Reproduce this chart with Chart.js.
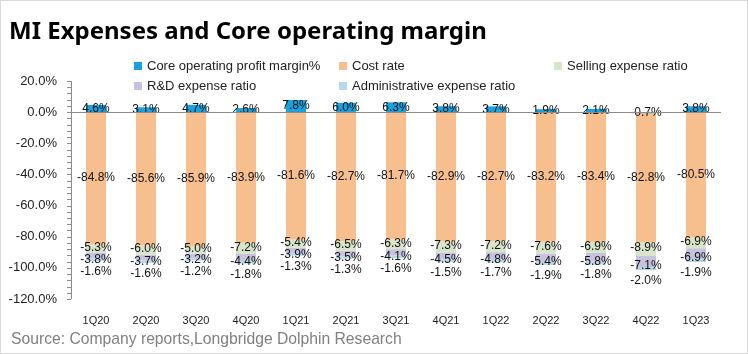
<!DOCTYPE html>
<html>
<head>
<meta charset="utf-8">
<script src="https://cdn.jsdelivr.net/npm/chart.js@4/dist/chart.umd.min.js"></script>
<style>
  html,body{margin:0;padding:0;background:#fff;}
  #wrap{position:relative;width:748px;height:354px;box-sizing:border-box;border:1px solid #d9d9d9;overflow:hidden;font-family:"Liberation Sans",Arial,sans-serif;}
  #title{position:absolute;left:8px;top:12px;font-family:"Noto Sans",sans-serif;font-weight:bold;font-size:24px;color:#000;white-space:nowrap;}
  #legend{position:absolute;left:0;top:0;width:748px;height:100px;pointer-events:none;}
  .li{position:absolute;font-size:13px;color:#222;white-space:nowrap;line-height:16px;}
  .li i{display:inline-block;width:8px;height:8px;margin-right:5px;vertical-align:0px;}
  #source{position:absolute;left:10px;top:329px;font-size:15.7px;color:#808080;white-space:nowrap;}
  canvas{position:absolute;left:0;top:0;}
</style>
</head>
<body>
<div id="wrap">
  <canvas id="c" width="748" height="354"></canvas>
  <div id="title">MI Expenses and Core operating margin</div>
  <div id="legend"></div>
  <div id="source">Source: Company reports,Longbridge Dolphin Research</div>
</div>
<script>
const categories = ["1Q20","2Q20","3Q20","4Q20","1Q21","2Q21","3Q21","4Q21","1Q22","2Q22","3Q22","4Q22","1Q23"];
const coreMargin = [4.6,3.1,4.7,2.6,7.8,6.0,6.3,3.8,3.7,1.9,2.1,-0.7,3.8];
const costRate = [-84.8,-85.6,-85.9,-83.9,-81.6,-82.7,-81.7,-82.9,-82.7,-83.2,-83.4,-82.8,-80.5];
const sellingRatio = [-5.3,-6.0,-5.0,-7.2,-5.4,-6.5,-6.3,-7.3,-7.2,-7.6,-6.9,-8.9,-6.9];
const rdRatio = [-3.8,-3.7,-3.2,-4.4,-3.9,-3.5,-4.1,-4.5,-4.8,-5.4,-5.8,-7.1,-6.9];
const adminRatio = [-1.6,-1.6,-1.2,-1.8,-1.3,-1.3,-1.6,-1.5,-1.7,-1.9,-1.8,-2.0,-1.9];
const yTicks = [20,0,-20,-40,-60,-80,-100,-120];

const seriesNames = ["Core operating profit margin%","Cost rate","Selling expense ratio","R&D expense ratio","Administrative expense ratio"];
const colors = ["#17a2e0","#f7bf8e","#d8e5cb","#c7c3df","#b5d9e6"];
const labelOffsets = [0,0,-1,4,12];

const legendPos = [[133,57],[338,57],[553,57],[133,77],[338,77]];
const lg = document.getElementById('legend');
seriesNames.forEach((n,i)=>{
  const d = document.createElement('div');
  d.className='li';
  d.style.left=legendPos[i][0]+'px';
  d.style.top=legendPos[i][1]+'px';
  d.innerHTML='<i style="background:'+colors[i]+'"></i>'+n.replace('&','&amp;');
  lg.appendChild(d);
});

const labelPlugin = {
  id:'barLabels',
  afterDatasetsDraw(chart){
    const ctx = chart.ctx;
    ctx.save();
    ctx.font = '12px "Liberation Sans", Arial, sans-serif';
    ctx.fillStyle = '#111';
    ctx.textAlign='center';
    ctx.textBaseline='middle';
    chart.data.datasets.forEach((ds,di)=>{
      const meta = chart.getDatasetMeta(di);
      meta.data.forEach((el,i)=>{
        const v = ds.data[i];
        const y = (el.y + el.base)/2 + labelOffsets[di];
        ctx.fillText(v.toFixed(1)+'%', el.x, y);
      });
    });
    ctx.restore();
  }
};

const axisPlugin = {
  id:'axisMinor',
  afterDraw(chart){
    const ys = chart.scales.y;
    const ctx = chart.ctx;
    const x = chart.chartArea.left;
    ctx.save();
    ctx.strokeStyle='#8c8c8c';
    ctx.lineWidth=1;
    ctx.beginPath();
    ctx.moveTo(x+0.5, ys.getPixelForValue(20));
    ctx.lineTo(x+0.5, ys.getPixelForValue(-120));
    for(let v=20; v>=-120; v-=4){
      const py = Math.round(ys.getPixelForValue(v))+0.5;
      ctx.moveTo(x-4, py);
      ctx.lineTo(x, py);
    }
    const zy = Math.round(ys.getPixelForValue(0))+0.5;
    ctx.moveTo(x, zy);
    ctx.lineTo(chart.chartArea.right, zy);
    ctx.stroke();
    ctx.restore();
  }
};

const allData = [coreMargin,costRate,sellingRatio,rdRatio,adminRatio];
new Chart(document.getElementById('c'),{
  type:'bar',
  data:{
    labels:categories,
    datasets: allData.map((d,i)=>({
      label:seriesNames[i],
      data:d,
      backgroundColor:colors[i],
      borderWidth:0,
      categoryPercentage:1,
      barPercentage:0.4
    }))
  },
  options:{
    responsive:false,
    animation:false,
    layout:{padding:{left:0,right:28,top:80,bottom:0}},
    plugins:{legend:{display:false},tooltip:{enabled:false},title:{display:false}},
    scales:{
      x:{
        stacked:true,
        grid:{display:false,drawTicks:false},
        border:{display:false},
        ticks:{font:{size:11,family:'"Liberation Sans", Arial, sans-serif'},color:'#222',padding:15,maxRotation:0},
        afterFit(s){ s.height = 56; }
      },
      y:{
        stacked:true,
        min:-120,max:20,
        afterBuildTicks(s){ s.ticks = yTicks.map(v=>({value:v})); },
        grid:{display:false,drawTicks:false},
        border:{display:false},
        ticks:{font:{size:13,family:'"Liberation Sans", Arial, sans-serif'},color:'#222',padding:14,
          callback:v=>v.toFixed(1)+'%'},
        afterFit(s){ s.width = 70; }
      }
    }
  },
  plugins:[labelPlugin,axisPlugin]
});
</script>
</body>
</html>
